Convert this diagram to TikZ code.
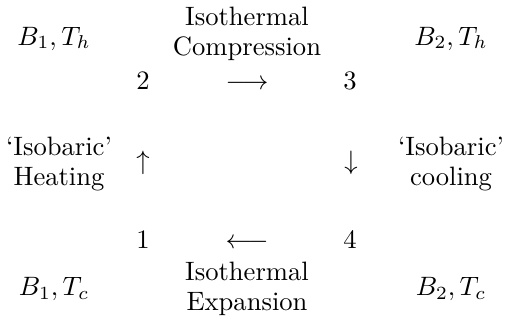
\documentclass[tikz,border=0pt]{standalone}
\usepackage{amsmath}
\tikzset{
  lbl/.style={inner sep=0pt, anchor=base},
  arr/.style={inner sep=0pt}
}
\begin{document}
\begin{tikzpicture}[x=0.376pt,y=-0.376pt]
  \useasboundingbox (0,0) rectangle (505,323);
  % corner states
  \node[lbl] (bh1) at (54,45) {$B_1, T_h$};
  \node[lbl] (bh2) at (451,45) {$B_2, T_h$};
  \node[lbl] (bc1) at (54,295) {$B_1, T_c$};
  \node[lbl] (bc2) at (451,295) {$B_2, T_c$};
  % process names
  \node[lbl] (compa) at (247,25) {Isothermal};
  \node[lbl] (compb) at (247,55) {Compression};
  \node[lbl] (expna) at (247,280) {Isothermal};
  \node[lbl] (expnb) at (247,310) {Expansion};
  \node[lbl] (heata) at (59,155) {`Isobaric'};
  \node[lbl] (heatb) at (59,185) {Heating};
  \node[lbl] (coola) at (451,155) {`Isobaric'};
  \node[lbl] (coolb) at (451,185) {cooling};
  % points of the cycle
  \node[lbl] (p2) at (143,89) {2};
  \node[lbl] (p3) at (350,89) {3};
  \node[lbl] (p1) at (143,248) {1};
  \node[lbl] (p4) at (350,248) {4};
  % arrows between them
  \node[lbl] (a23) at (247,89) {$\longrightarrow$};
  \node[lbl] (a41) at (247,248) {$\longleftarrow$};
  \node[arr] (a12) at (143,162.5) {$\uparrow$};
  \node[arr] (a34) at (351,162.5) {$\downarrow$};
\end{tikzpicture}
\end{document}
